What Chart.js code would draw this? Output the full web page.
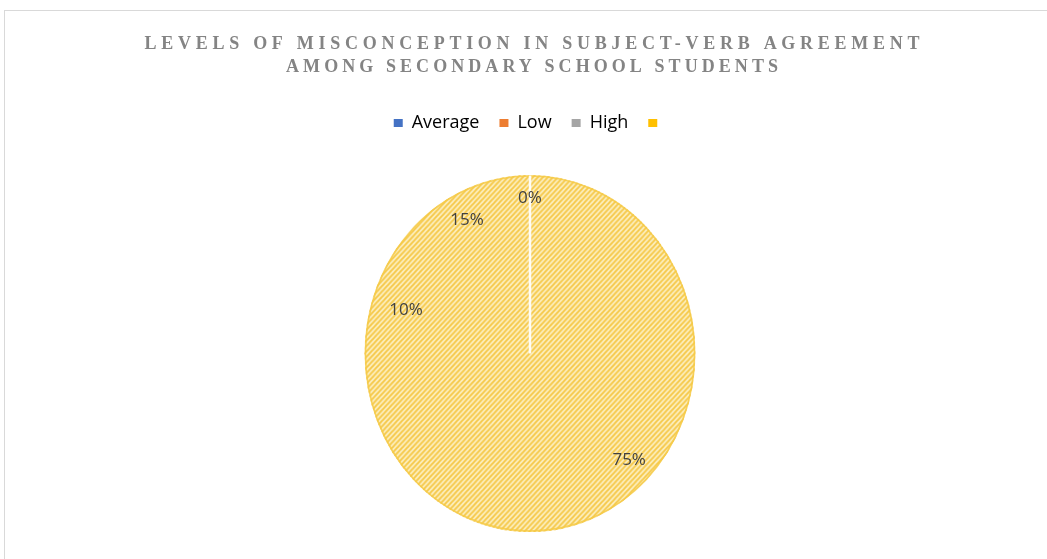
<!DOCTYPE html>
<html>
<head>
<meta charset="utf-8">
<title>Levels of Misconception in Subject-Verb Agreement</title>
<script src="https://cdn.jsdelivr.net/npm/chart.js@4.4.1/dist/chart.umd.min.js"></script>
<style>
  html, body { margin: 0; padding: 0; background: #ffffff; overflow: hidden; }
  #wrap { width: 1047px; height: 559px; position: relative; }
</style>
</head>
<body>
<div id="wrap"><canvas id="chart" width="1047" height="559"></canvas></div>
<script>
// ---- data ----
const titleLines = [
  'LEVELS OF MISCONCEPTION IN SUBJECT-VERB AGREEMENT',
  'AMONG SECONDARY SCHOOL STUDENTS'
];
const categories = ['Average', 'Low', 'High', ''];
const shares = [75, 10, 15, 0];
const legendColors = ['#4472C4', '#ED7D31', '#A5A5A5', '#FFC000'];

// ---- styling ----
const PIE_RADIUS = 165;          // horizontal radius in px
const PIE_STRETCH = 1.079;       // vertical stretch of the pie
const PIE_DY = 3;                // small downward nudge of the pie
const LABEL_RADIAL = [0.85, 0.79, 0.84, 0.87];
const TITLE_WIDTHS = [775, 492];
const TITLE_Y = [44, 67];

// diagonal yellow hatch used for every slice
function makeHatch() {
  const p = 5;
  const c = document.createElement('canvas');
  c.width = p; c.height = p;
  const g = c.getContext('2d');
  g.fillStyle = '#FCEDBA';
  g.fillRect(0, 0, p, p);
  g.strokeStyle = '#F6C94A';
  g.lineWidth = 1.6;
  g.beginPath();
  g.moveTo(-1, p + 1); g.lineTo(p + 1, -1);
  g.moveTo(-1, 1); g.lineTo(1, -1);
  g.moveTo(p - 1, p + 1); g.lineTo(p + 1, p - 1);
  g.stroke();
  return g.createPattern(c, 'repeat');
}
const hatch = makeHatch();

// frame, title, stretched pie and value labels
const decorPlugin = {
  id: 'decor',
  beforeDraw(chart) {
    const ctx = chart.ctx;
    ctx.save();
    ctx.fillStyle = '#ffffff';
    ctx.fillRect(0, 0, chart.width, chart.height);
    ctx.strokeStyle = '#D9D9D9';
    ctx.lineWidth = 1;
    ctx.strokeRect(4.5, 10.5, chart.width + 20, chart.height + 20);
    ctx.restore();
  },
  beforeDatasetsDraw(chart) {
    const arc = chart.getDatasetMeta(0).data[0];
    const ctx = chart.ctx;
    ctx.save();
    ctx.translate(arc.x, arc.y + PIE_DY);
    ctx.scale(1, PIE_STRETCH);
    ctx.translate(-arc.x, -arc.y);
  },
  afterDatasetsDraw(chart) {
    const ctx = chart.ctx;
    const arcs = chart.getDatasetMeta(0).data;
    const a0 = arcs[0];
    // soft outer rim
    ctx.beginPath();
    ctx.arc(a0.x, a0.y, a0.outerRadius - 0.5, 0, Math.PI * 2);
    ctx.strokeStyle = 'rgba(246, 202, 70, 0.85)';
    ctx.lineWidth = 1.5;
    ctx.stroke();
    // white radial line where the empty slice sits
    const last = arcs[arcs.length - 1];
    ctx.beginPath();
    ctx.moveTo(last.x, last.y);
    ctx.lineTo(last.x + Math.cos(last.startAngle) * last.outerRadius,
               last.y + Math.sin(last.startAngle) * last.outerRadius);
    ctx.strokeStyle = 'rgba(255,255,255,0.92)';
    ctx.lineWidth = 2.5;
    ctx.stroke();
    ctx.restore();

    // value labels
    ctx.save();
    ctx.font = '17px "Open Sans"';
    ctx.fillStyle = '#404040';
    ctx.textAlign = 'center';
    ctx.textBaseline = 'middle';
    arcs.forEach((a, i) => {
      const mid = (a.startAngle + a.endAngle) / 2;
      const rr = a.outerRadius * LABEL_RADIAL[i];
      const x = a.x + Math.cos(mid) * rr;
      const y = a.y + PIE_DY + Math.sin(mid) * rr * PIE_STRETCH;
      ctx.fillText(shares[i] + '%', x, y);
    });
    ctx.restore();
  },
  afterDraw(chart) {
    const ctx = chart.ctx;
    ctx.save();
    ctx.font = 'bold 18px "Liberation Serif", "Times New Roman", serif';
    ctx.fillStyle = '#848484';
    ctx.textAlign = 'left';
    ctx.textBaseline = 'middle';
    titleLines.forEach((t, i) => {
      ctx.letterSpacing = '0px';
      const w = ctx.measureText(t).width;
      const gaps = t.length - 1;
      const L = Math.max(0, (TITLE_WIDTHS[i] - w) / gaps);
      ctx.letterSpacing = L.toFixed(2) + 'px';
      const vis = w + gaps * L;
      ctx.fillText(t, 532 - vis / 2, TITLE_Y[i]);
    });
    ctx.restore();
  }
};

new Chart(document.getElementById('chart'), {
  type: 'pie',
  data: {
    labels: categories,
    datasets: [{
      data: shares,
      backgroundColor: categories.map(() => hatch),
      borderColor: categories.map(() => hatch),
      borderWidth: 1,
      radius: PIE_RADIUS
    }]
  },
  options: {
    responsive: false,
    animation: false,
    events: [],
    layout: { padding: { top: 94, bottom: -6, left: 13, right: 0 } },
    plugins: {
      tooltip: { enabled: false },
      title: { display: false },
      legend: {
        display: true,
        position: 'top',
        labels: {
          font: { family: '"Open Sans"', size: 18 },
          color: '#5f5f5f',
          boxWidth: 9,
          boxHeight: 8,
          padding: 20,
          generateLabels: () => categories.map((c, i) => ({
            text: c,
            fillStyle: legendColors[i],
            strokeStyle: legendColors[i],
            lineWidth: 0,
            hidden: false,
            index: i
          }))
        }
      }
    }
  },
  plugins: [decorPlugin]
});
</script>
</body>
</html>
